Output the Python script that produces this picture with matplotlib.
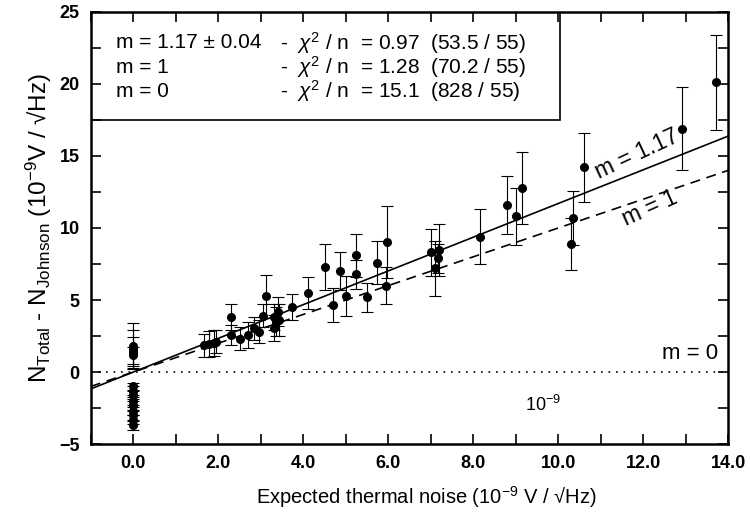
import numpy as np
import matplotlib.pyplot as plt
from matplotlib.ticker import MultipleLocator, FuncFormatter

plt.rcParams["font.family"] = ["Liberation Sans", "DejaVu Sans"]
plt.rcParams["mathtext.fontset"] = "custom"
plt.rcParams["mathtext.rm"] = "Liberation Sans"
plt.rcParams["mathtext.it"] = "Liberation Sans:italic"

# punctele la zgomot termic zero
x_zero = [0.0, 0.0, 0.0, 0.0, 0.0, 0.0, 0.0, 0.0, 0.0, 0.0, 0.0, 0.0, 0.0]
y_zero = [1.8, 1.6, 1.4, 1.15, -1.0, -1.3, -1.6, -2.0, -2.3, -2.7, -3.0, -3.3, -3.7]
e_zero = [1.6, 1.3, 1.0, 0.6, 0.25, 0.3, 0.3, 0.3, 0.3, 0.3, 0.3, 0.3, 0.3]

# punctele masurate
x_pct = [1.67, 1.78, 1.9, 1.95, 2.3, 2.3, 2.5, 2.7, 2.85, 2.95, 3.05, 3.12, 3.3,
         3.35, 3.4, 3.43, 3.3, 3.73, 4.1, 4.5, 4.7, 4.86, 5.0, 5.23, 5.23, 5.5,
         5.73, 5.96, 5.94, 7.0, 7.2, 7.16, 7.1, 8.17, 8.8, 9.0, 9.15, 10.35,
         10.3, 10.6, 12.9, 13.7]
y_pct = [1.85, 1.95, 2.0, 2.1, 3.8, 2.6, 2.3, 2.6, 3.05, 2.8, 3.9, 5.25, 3.8,
         3.5, 4.2, 3.6, 3.05, 4.5, 5.5, 7.3, 4.65, 7.0, 5.3, 8.1, 6.8, 5.2,
         7.6, 9.0, 6.0, 8.3, 8.5, 7.9, 7.2, 9.4, 11.6, 10.8, 12.8, 10.7,
         8.9, 14.2, 16.9, 20.1]
e_pct = [0.8, 0.9, 0.9, 0.8, 0.9, 0.7, 0.8, 0.9, 0.8, 0.8, 0.8, 1.5, 0.9,
         1.0, 1.0, 1.1, 0.9, 0.9, 1.1, 1.6, 1.2, 1.3, 1.4, 1.5, 1.0, 1.0,
         1.5, 2.5, 1.3, 1.6, 1.8, 1.0, 1.9, 1.9, 2.0, 2.0, 2.5, 1.9,
         1.8, 2.4, 2.9, 3.3]

pante = [1.17, 1.0, 0.0]
legenda_m = ["m = 1.17 ± 0.04", "m = 1", "m = 0"]
legenda_chi = [r"-  $\chi^2$ / n  = 0.97  (53.5 / 55)",
               r"-  $\chi^2$ / n  = 1.28  (70.2 / 55)",
               r"-  $\chi^2$ / n  = 15.1  (828 / 55)"]

fig = plt.figure(figsize=(7.5, 5.17), dpi=100)
ax = fig.add_axes([0.121, 0.141, 0.850, 0.836])

xl = np.array([-1.0, 14.0])
ax.plot(xl, pante[0] * xl, color="black", lw=1.2, zorder=2)
ax.plot(xl, pante[1] * xl, color="black", lw=1.2, ls=(0, (6, 4)), zorder=2)
ax.plot(xl, pante[2] * xl, color="black", lw=1.2, ls=(0, (1, 3.5)), zorder=2)

ax.errorbar(x_pct, y_pct, yerr=e_pct, fmt="o", color="black", ms=5.5,
            elinewidth=0.8, capsize=4, capthick=0.8, zorder=3)
ax.errorbar(x_zero, y_zero, yerr=e_zero, fmt="o", color="black", ms=5.5,
            elinewidth=0.8, capsize=4, capthick=0.8, zorder=3)

ax.set_xlim(-1, 14)
ax.set_ylim(-5, 25)
ax.xaxis.set_major_locator(MultipleLocator(2))
ax.xaxis.set_minor_locator(MultipleLocator(1))
ax.xaxis.set_major_formatter(FuncFormatter(lambda v, p: f"{v:.1f}"))
ax.yaxis.set_major_locator(MultipleLocator(5))
ax.yaxis.set_minor_locator(MultipleLocator(2.5))
ax.tick_params(which="both", direction="in", top=True, right=True, width=1.2)
ax.tick_params(which="major", length=7, labelsize=13, pad=8)
ax.tick_params(which="minor", length=7)
for lab in ax.get_xticklabels() + ax.get_yticklabels():
    lab.set_fontweight("bold")
for s in ax.spines.values():
    s.set_linewidth(1.8)

ax.set_xlabel("Expected thermal noise (10$^{-9}$ V / √Hz)", fontsize=14.5)
ax.xaxis.set_label_coords(0.526, -0.092)
ax.set_ylabel(r"N$_{\mathregular{Total}}$ - N$_{\mathregular{Johnson}}$ (10$^{-9}$V / √Hz)",
              fontsize=17.5, labelpad=4)

# caseta cu rezultatele fitului
ax.add_patch(plt.Rectangle((-1, 17.5), 11.05, 7.5, fill=False, lw=1.2,
                           edgecolor="black", zorder=4))
for i in range(3):
    yy = 22.85 - 1.68 * i
    ax.text(-0.4, yy, legenda_m[i], fontsize=15, va="center", zorder=5)
    ax.text(3.45, yy, legenda_chi[i], fontsize=15, va="center", zorder=5)

ax.text(11.85, 15.1, "m = 1.17", fontsize=16.5, rotation=25, ha="center", va="center")
ax.text(12.15, 11.35, "m = 1", fontsize=16.5, rotation=24, ha="center", va="center")
ax.text(13.1, 1.3, "m = 0", fontsize=16, ha="center", va="center")
ax.text(9.65, -2.3, "10$^{-9}$", fontsize=13, ha="center", va="center")

fig.savefig("out.png", dpi=100)
